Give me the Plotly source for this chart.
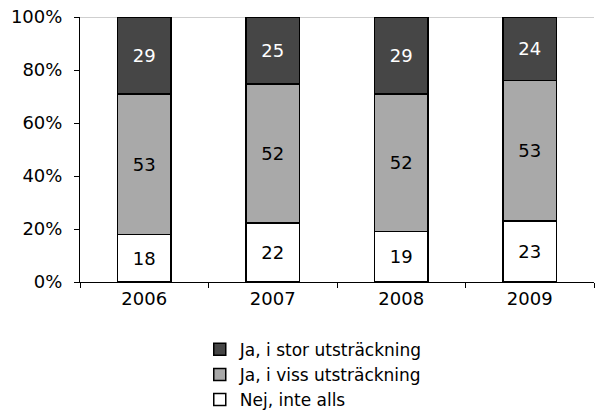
import plotly.graph_objects as go

years = ["2006", "2007", "2008", "2009"]
nej = [18, 22, 19, 23]
viss = [53, 52, 52, 53]
stor = [29, 25, 29, 24]

FONT = "DejaVu Sans, Arial, sans-serif"

fig = go.Figure()
series = [
    ("Nej, inte alls", nej, "#ffffff", "#000000"),
    ("Ja, i viss utsträckning", viss, "#a9a9a9", "#000000"),
    ("Ja, i stor utsträckning", stor, "#464646", "#ffffff"),
]
for name, vals, fill, txt in series:
    fig.add_trace(
        go.Bar(
            x=years,
            y=vals,
            name=name,
            text=[str(v) for v in vals],
            textposition="inside",
            insidetextanchor="middle",
            textangle=0,
            textfont={"family": FONT, "size": 18, "color": txt},
            marker={"color": fill, "line": {"color": "#000000", "width": 1.5}},
            hoverinfo="skip",
        )
    )

fig.update_layout(
    barmode="stack",
    barnorm="percent",
    bargap=0.58,
    width=595,
    height=412,
    margin={"l": 80, "r": 1, "t": 17, "b": 130, "autoexpand": False},
    paper_bgcolor="white",
    plot_bgcolor="white",
    font={"family": FONT, "size": 18, "color": "#000000"},
    legend={
        "orientation": "v",
        "traceorder": "reversed",
        "x": 0.233,
        "y": -0.188,
        "xanchor": "left",
        "yanchor": "top",
        "font": {"family": FONT, "size": 17},
        "tracegroupgap": 0,
    },
    showlegend=True,
)
fig.update_xaxes(
    type="category",
    showgrid=False,
    showline=True,
    linecolor="#000000",
    linewidth=1,
    ticks="outside",
    tickson="boundaries",
    ticklen=5,
    tickcolor="#000000",
    automargin=False,
)
fig.update_yaxes(
    range=[0, 100],
    dtick=20,
    ticksuffix="%",
    showgrid=False,
    showline=True,
    linecolor="#000000",
    linewidth=1,
    ticks="outside",
    ticklen=5,
    tickcolor="#000000",
    ticklabelstandoff=8,
    zeroline=False,
    automargin=False,
)
# top reference line at 100%
fig.add_shape(
    type="line", xref="paper", yref="y", x0=0, x1=1, y0=100, y1=100,
    line={"color": "#a0a0a0", "width": 1}, layer="below",
)

fig.write_html(
    "out.html",
    config={"displayModeBar": False},
    post_script="document.body.style.margin='0';",
)
